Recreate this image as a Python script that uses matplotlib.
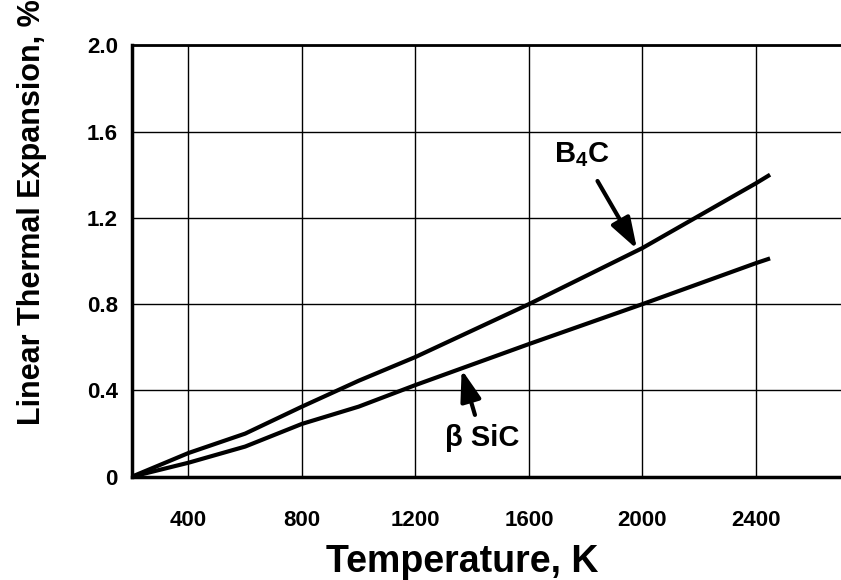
import matplotlib
matplotlib.use("Agg")
import matplotlib.pyplot as plt

# Data
temp_b4c = [200, 400, 600, 800, 1000, 1200, 1600, 2000, 2400, 2450]
exp_b4c = [0.0, 0.11, 0.20, 0.325, 0.445, 0.555, 0.80, 1.06, 1.36, 1.40]
temp_sic = [200, 400, 600, 800, 1000, 1200, 1600, 2000, 2400, 2450]
exp_sic = [0.0, 0.065, 0.14, 0.245, 0.325, 0.425, 0.615, 0.80, 0.99, 1.012]
x_ticks = [400, 800, 1200, 1600, 2000, 2400]
y_ticks = [0, 0.4, 0.8, 1.2, 1.6, 2.0]
y_ticklabels = ["0", "0.4", "0.8", "1.2", "1.6", "2.0"]

FONT = 'Liberation Sans'
plt.rcParams['font.family'] = [FONT, 'DejaVu Sans']
plt.rcParams['mathtext.fontset'] = 'custom'
plt.rcParams['mathtext.rm'] = FONT + ':bold'
plt.rcParams['mathtext.it'] = FONT + ':bold'
plt.rcParams['mathtext.bf'] = FONT + ':bold'

fig = plt.figure(figsize=(8.41, 5.80), dpi=100)
ax = fig.add_axes([0.1566, 0.178, 0.8434, 0.744])

ax.plot(temp_b4c, exp_b4c, color='black', lw=3.0, solid_capstyle='butt', zorder=3)
ax.plot(temp_sic, exp_sic, color='black', lw=3.0, solid_capstyle='butt', zorder=3)

ax.set_xlim(200, 2700)
ax.set_ylim(0, 2.0)
ax.set_xticks(x_ticks)
ax.set_yticks(y_ticks)
ax.set_yticklabels(y_ticklabels)
ax.grid(True, color='black', lw=1.0)
ax.set_axisbelow(True)
ax.tick_params(length=0, labelsize=16)
ax.tick_params(axis='x', pad=24)
ax.tick_params(axis='y', pad=10)
for lab in ax.get_xticklabels() + ax.get_yticklabels():
    lab.set_fontweight('bold')

ax.spines['right'].set_visible(False)
ax.spines['left'].set_linewidth(2.5)
ax.spines['bottom'].set_linewidth(2.5)
ax.spines['top'].set_linewidth(2.0)

ax.set_xlabel("Temperature, K", fontsize=27, fontweight='bold')
ax.xaxis.set_label_coords(0.466, -0.155)
ax.set_ylabel("Linear Thermal Expansion, %", fontsize=22, fontweight='bold')
ax.yaxis.set_label_coords(-0.12, 0.613)

ax.annotate("B$_4$C", xy=(1981, 1.055), xytext=(1787, 1.495),
            fontsize=21, fontweight='bold', ha='center', va='center',
            arrowprops=dict(arrowstyle='-|>,head_length=0.9,head_width=0.3',
                            color='black', lw=3.0, shrinkA=8, shrinkB=0))
ax.annotate("β SiC", xy=(1363, 0.497), xytext=(1434, 0.178),
            fontsize=21, fontweight='bold', ha='center', va='center',
            arrowprops=dict(arrowstyle='-|>,head_length=0.9,head_width=0.3',
                            color='black', lw=3.0, shrinkA=5, shrinkB=0))

fig.savefig("out.png", dpi=100)
